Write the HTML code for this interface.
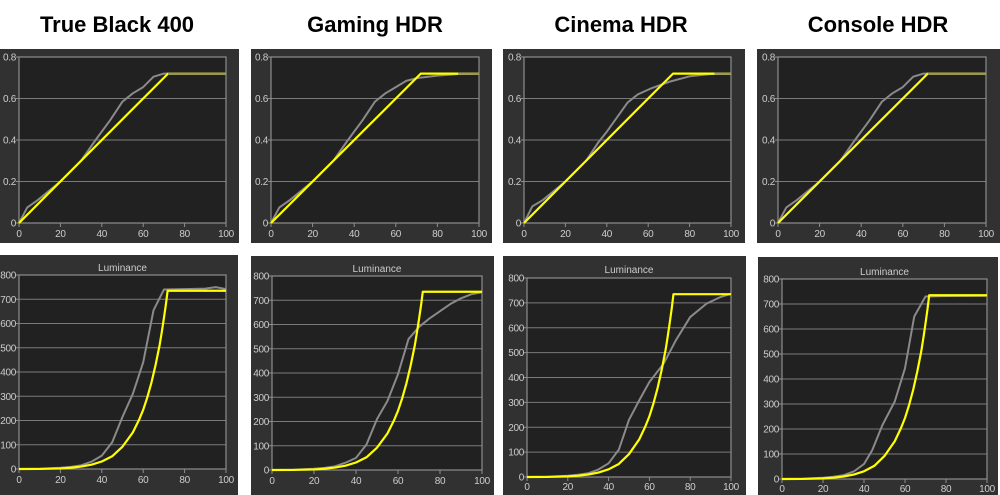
<!DOCTYPE html>
<html><head><meta charset="utf-8">
<style>
html,body{margin:0;padding:0;background:#fff;}
svg{display:block;}
text{font-family:"Liberation Sans",sans-serif;font-size:10px;letter-spacing:-0.3px;fill:#cdcdcd;}
.t{font-size:22px;font-weight:bold;fill:#000;letter-spacing:0;}
.lum{font-size:10px;letter-spacing:0;}
.g line{stroke:#7a7a7a;stroke-width:1;}
.bd{fill:none;stroke:#8e8e8e;stroke-width:1.2;}
.tk line{stroke:#8e8e8e;stroke-width:1;}
.cv polyline{fill:none;vector-effect:non-scaling-stroke;stroke-linejoin:round;}
.gr{stroke:#8a8a8a;stroke-width:2;}
.ye{stroke:#ffff00;stroke-width:2.2;}
.ol{stroke:#959570;stroke-width:2;}
</style></head>
<body>
<svg width="1000" height="495" viewBox="0 0 1000 495" xmlns="http://www.w3.org/2000/svg">
<rect width="1000" height="495" fill="#fff"/>
<text class="t" x="117" y="32" text-anchor="middle">True Black 400</text>
<text class="t" x="375" y="32" text-anchor="middle">Gaming HDR</text>
<text class="t" x="621" y="32" text-anchor="middle">Cinema HDR</text>
<text class="t" x="878" y="32" text-anchor="middle">Console HDR</text>

<!-- panels -->
<rect x="0" y="49" width="239" height="194" fill="#313131"/>
<rect x="251" y="49" width="241" height="194" fill="#313131"/>
<rect x="503" y="49" width="242" height="194" fill="#313131"/>
<rect x="757" y="49" width="243" height="194" fill="#313131"/>
<rect x="0" y="255" width="238" height="240" fill="#313131"/>
<rect x="251" y="256" width="243" height="239" fill="#313131"/>
<rect x="503" y="256" width="243" height="239" fill="#313131"/>
<rect x="758" y="257" width="240" height="238" fill="#313131"/>

<!-- TOP 1 -->
<svg x="19" y="57" width="207" height="166" overflow="visible">
 <rect width="100%" height="100%" fill="#212121"/>
 <g class="g"><line x1="0" x2="100%" y1="25%" y2="25%"/><line x1="0" x2="100%" y1="50%" y2="50%"/><line x1="0" x2="100%" y1="75%" y2="75%"/></g>
 <rect class="bd" width="100%" height="100%"/>
 <g class="tk"><line x1="-3" x2="0" y1="0%" y2="0%"/><line x1="-3" x2="0" y1="25%" y2="25%"/><line x1="-3" x2="0" y1="50%" y2="50%"/><line x1="-3" x2="0" y1="75%" y2="75%"/><line x1="-3" x2="0" y1="100%" y2="100%"/></g>
 <g text-anchor="end"><text x="-3" y="0%" dy="0.35em">0.8</text><text x="-3" y="25%" dy="0.35em">0.6</text><text x="-3" y="50%" dy="0.35em">0.4</text><text x="-3" y="75%" dy="0.35em">0.2</text><text x="-3" y="100%" dy="0.35em">0</text></g>
 <svg y="100%" width="100%" height="5" overflow="visible">
  <g class="tk"><line x1="0%" x2="0%" y1="0" y2="4"/><line x1="20%" x2="20%" y1="0" y2="4"/><line x1="40%" x2="40%" y1="0" y2="4"/><line x1="60%" x2="60%" y1="0" y2="4"/><line x1="80%" x2="80%" y1="0" y2="4"/><line x1="100%" x2="100%" y1="0" y2="4"/></g>
  <g text-anchor="middle"><text x="0%" y="14">0</text><text x="20%" y="14">20</text><text x="40%" y="14">40</text><text x="60%" y="14">60</text><text x="80%" y="14">80</text><text x="100%" y="14">100</text></g>
 </svg>
 <svg class="cv" width="100%" height="100%" viewBox="0 0 100 80" preserveAspectRatio="none" overflow="visible"><g transform="matrix(1 0 0 -1 0 80)">
  <polyline class="gr" points="0,0 4,7.5 9,11 20,20 30,30 37,40 44,49.5 50,58.5 55,62.5 60,65.5 65,70.5 70,72 100,72"/>
  <polyline class="ye" points="0,0 72,72 100,72"/>
  <polyline class="ol" points="72,72 100,72"/>
 </g></svg>
</svg>

<!-- TOP 2 -->
<svg x="271" y="57" width="208" height="166" overflow="visible">
 <rect width="100%" height="100%" fill="#212121"/>
 <g class="g"><line x1="0" x2="100%" y1="25%" y2="25%"/><line x1="0" x2="100%" y1="50%" y2="50%"/><line x1="0" x2="100%" y1="75%" y2="75%"/></g>
 <rect class="bd" width="100%" height="100%"/>
 <g class="tk"><line x1="-3" x2="0" y1="0%" y2="0%"/><line x1="-3" x2="0" y1="25%" y2="25%"/><line x1="-3" x2="0" y1="50%" y2="50%"/><line x1="-3" x2="0" y1="75%" y2="75%"/><line x1="-3" x2="0" y1="100%" y2="100%"/></g>
 <g text-anchor="end"><text x="-3" y="0%" dy="0.35em">0.8</text><text x="-3" y="25%" dy="0.35em">0.6</text><text x="-3" y="50%" dy="0.35em">0.4</text><text x="-3" y="75%" dy="0.35em">0.2</text><text x="-3" y="100%" dy="0.35em">0</text></g>
 <svg y="100%" width="100%" height="5" overflow="visible">
  <g class="tk"><line x1="0%" x2="0%" y1="0" y2="4"/><line x1="20%" x2="20%" y1="0" y2="4"/><line x1="40%" x2="40%" y1="0" y2="4"/><line x1="60%" x2="60%" y1="0" y2="4"/><line x1="80%" x2="80%" y1="0" y2="4"/><line x1="100%" x2="100%" y1="0" y2="4"/></g>
  <g text-anchor="middle"><text x="0%" y="14">0</text><text x="20%" y="14">20</text><text x="40%" y="14">40</text><text x="60%" y="14">60</text><text x="80%" y="14">80</text><text x="100%" y="14">100</text></g>
 </svg>
 <svg class="cv" width="100%" height="100%" viewBox="0 0 100 80" preserveAspectRatio="none" overflow="visible"><g transform="matrix(1 0 0 -1 0 80)">
  <polyline class="gr" points="0,0 4,7.5 9,11 20,20 30,30 37,40 44,49.5 50,58.5 55,62.5 60,65.5 65,68.5 70,69.8 80,71 90,71.8 100,72"/>
  <polyline class="ye" points="0,0 72,72 100,72"/>
  <polyline class="ol" points="90,72 100,72"/>
 </g></svg>
</svg>

<!-- TOP 3 -->
<svg x="524" y="57" width="207" height="166" overflow="visible">
 <rect width="100%" height="100%" fill="#212121"/>
 <g class="g"><line x1="0" x2="100%" y1="25%" y2="25%"/><line x1="0" x2="100%" y1="50%" y2="50%"/><line x1="0" x2="100%" y1="75%" y2="75%"/></g>
 <rect class="bd" width="100%" height="100%"/>
 <g class="tk"><line x1="-3" x2="0" y1="0%" y2="0%"/><line x1="-3" x2="0" y1="25%" y2="25%"/><line x1="-3" x2="0" y1="50%" y2="50%"/><line x1="-3" x2="0" y1="75%" y2="75%"/><line x1="-3" x2="0" y1="100%" y2="100%"/></g>
 <g text-anchor="end"><text x="-3" y="0%" dy="0.35em">0.8</text><text x="-3" y="25%" dy="0.35em">0.6</text><text x="-3" y="50%" dy="0.35em">0.4</text><text x="-3" y="75%" dy="0.35em">0.2</text><text x="-3" y="100%" dy="0.35em">0</text></g>
 <svg y="100%" width="100%" height="5" overflow="visible">
  <g class="tk"><line x1="0%" x2="0%" y1="0" y2="4"/><line x1="20%" x2="20%" y1="0" y2="4"/><line x1="40%" x2="40%" y1="0" y2="4"/><line x1="60%" x2="60%" y1="0" y2="4"/><line x1="80%" x2="80%" y1="0" y2="4"/><line x1="100%" x2="100%" y1="0" y2="4"/></g>
  <g text-anchor="middle"><text x="0%" y="14">0</text><text x="20%" y="14">20</text><text x="40%" y="14">40</text><text x="60%" y="14">60</text><text x="80%" y="14">80</text><text x="100%" y="14">100</text></g>
 </svg>
 <svg class="cv" width="100%" height="100%" viewBox="0 0 100 80" preserveAspectRatio="none" overflow="visible"><g transform="matrix(1 0 0 -1 0 80)">
  <polyline class="gr" points="0,0 4,8 9,11 20,20 30,30 36,39 40,44 45,51 50,58 55,62 61,64.7 70,68 80,70.7 90,71.8 100,72"/>
  <polyline class="ye" points="0,0 72,72 100,72"/>
  <polyline class="ol" points="92,72 100,72"/>
 </g></svg>
</svg>

<!-- TOP 4 -->
<svg x="778" y="57" width="208" height="166" overflow="visible">
 <rect width="100%" height="100%" fill="#212121"/>
 <g class="g"><line x1="0" x2="100%" y1="25%" y2="25%"/><line x1="0" x2="100%" y1="50%" y2="50%"/><line x1="0" x2="100%" y1="75%" y2="75%"/></g>
 <rect class="bd" width="100%" height="100%"/>
 <g class="tk"><line x1="-3" x2="0" y1="0%" y2="0%"/><line x1="-3" x2="0" y1="25%" y2="25%"/><line x1="-3" x2="0" y1="50%" y2="50%"/><line x1="-3" x2="0" y1="75%" y2="75%"/><line x1="-3" x2="0" y1="100%" y2="100%"/></g>
 <g text-anchor="end"><text x="-3" y="0%" dy="0.35em">0.8</text><text x="-3" y="25%" dy="0.35em">0.6</text><text x="-3" y="50%" dy="0.35em">0.4</text><text x="-3" y="75%" dy="0.35em">0.2</text><text x="-3" y="100%" dy="0.35em">0</text></g>
 <svg y="100%" width="100%" height="5" overflow="visible">
  <g class="tk"><line x1="0%" x2="0%" y1="0" y2="4"/><line x1="20%" x2="20%" y1="0" y2="4"/><line x1="40%" x2="40%" y1="0" y2="4"/><line x1="60%" x2="60%" y1="0" y2="4"/><line x1="80%" x2="80%" y1="0" y2="4"/><line x1="100%" x2="100%" y1="0" y2="4"/></g>
  <g text-anchor="middle"><text x="0%" y="14">0</text><text x="20%" y="14">20</text><text x="40%" y="14">40</text><text x="60%" y="14">60</text><text x="80%" y="14">80</text><text x="100%" y="14">100</text></g>
 </svg>
 <svg class="cv" width="100%" height="100%" viewBox="0 0 100 80" preserveAspectRatio="none" overflow="visible"><g transform="matrix(1 0 0 -1 0 80)">
  <polyline class="gr" points="0,0 4,7.5 9,11 20,20 30,30 37,40 44,49.5 50,58.5 55,62.5 60,65.5 65,70.5 70,72 100,72"/>
  <polyline class="ye" points="0,0 72,72 100,72"/>
  <polyline class="ol" points="72,72 100,72"/>
 </g></svg>
</svg>

<!-- BOTTOM 1 -->
<svg x="19" y="275" width="207" height="194" overflow="visible">
 <rect width="100%" height="100%" fill="#212121"/>
 <g class="g"><line x1="0" x2="100%" y1="12.5%" y2="12.5%"/><line x1="0" x2="100%" y1="25%" y2="25%"/><line x1="0" x2="100%" y1="37.5%" y2="37.5%"/><line x1="0" x2="100%" y1="50%" y2="50%"/><line x1="0" x2="100%" y1="62.5%" y2="62.5%"/><line x1="0" x2="100%" y1="75%" y2="75%"/><line x1="0" x2="100%" y1="87.5%" y2="87.5%"/></g>
 <rect class="bd" width="100%" height="100%"/>
 <text class="lum" x="50%" y="-4" text-anchor="middle">Luminance</text>
 <g class="tk"><line x1="-3" x2="0" y1="0%" y2="0%"/><line x1="-3" x2="0" y1="12.5%" y2="12.5%"/><line x1="-3" x2="0" y1="25%" y2="25%"/><line x1="-3" x2="0" y1="37.5%" y2="37.5%"/><line x1="-3" x2="0" y1="50%" y2="50%"/><line x1="-3" x2="0" y1="62.5%" y2="62.5%"/><line x1="-3" x2="0" y1="75%" y2="75%"/><line x1="-3" x2="0" y1="87.5%" y2="87.5%"/><line x1="-3" x2="0" y1="100%" y2="100%"/></g>
 <g text-anchor="end"><text x="-3" y="0%" dy="0.35em">800</text><text x="-3" y="12.5%" dy="0.35em">700</text><text x="-3" y="25%" dy="0.35em">600</text><text x="-3" y="37.5%" dy="0.35em">500</text><text x="-3" y="50%" dy="0.35em">400</text><text x="-3" y="62.5%" dy="0.35em">300</text><text x="-3" y="75%" dy="0.35em">200</text><text x="-3" y="87.5%" dy="0.35em">100</text><text x="-3" y="100%" dy="0.35em">0</text></g>
 <svg y="100%" width="100%" height="5" overflow="visible">
  <g class="tk"><line x1="0%" x2="0%" y1="0" y2="4"/><line x1="20%" x2="20%" y1="0" y2="4"/><line x1="40%" x2="40%" y1="0" y2="4"/><line x1="60%" x2="60%" y1="0" y2="4"/><line x1="80%" x2="80%" y1="0" y2="4"/><line x1="100%" x2="100%" y1="0" y2="4"/></g>
  <g text-anchor="middle"><text x="0%" y="14">0</text><text x="20%" y="14">20</text><text x="40%" y="14">40</text><text x="60%" y="14">60</text><text x="80%" y="14">80</text><text x="100%" y="14">100</text></g>
 </svg>
 <svg class="cv" width="100%" height="100%" viewBox="0 0 100 80" preserveAspectRatio="none" overflow="visible"><g transform="matrix(1 0 0 -1 0 80)">
  <polyline class="gr" points="0,0 10,0.1 20,0.5 25,0.9 30,1.5 35,3 40,5.5 45,11 50,21.5 55,31 60,44 65,65.5 70,74 80,74.2 90,74.4 95,75 100,74.2"/>
  <polyline class="ye" points="0,0 10,0.03 20,0.24 25,0.52 30,1 35,1.79 40,3.09 45,5.24 50,9.22 55,15.1 58,20.3 60,24.4 62,29.6 64,35.7 66,43 68,51.4 69,56.6 70,62.2 71,68.1 71.8,73.5 100,73.5"/>
 </g></svg>
</svg>

<!-- BOTTOM 2 -->
<svg x="272" y="276" width="210" height="194" overflow="visible">
 <rect width="100%" height="100%" fill="#212121"/>
 <g class="g"><line x1="0" x2="100%" y1="12.5%" y2="12.5%"/><line x1="0" x2="100%" y1="25%" y2="25%"/><line x1="0" x2="100%" y1="37.5%" y2="37.5%"/><line x1="0" x2="100%" y1="50%" y2="50%"/><line x1="0" x2="100%" y1="62.5%" y2="62.5%"/><line x1="0" x2="100%" y1="75%" y2="75%"/><line x1="0" x2="100%" y1="87.5%" y2="87.5%"/></g>
 <rect class="bd" width="100%" height="100%"/>
 <text class="lum" x="50%" y="-4" text-anchor="middle">Luminance</text>
 <g class="tk"><line x1="-3" x2="0" y1="0%" y2="0%"/><line x1="-3" x2="0" y1="12.5%" y2="12.5%"/><line x1="-3" x2="0" y1="25%" y2="25%"/><line x1="-3" x2="0" y1="37.5%" y2="37.5%"/><line x1="-3" x2="0" y1="50%" y2="50%"/><line x1="-3" x2="0" y1="62.5%" y2="62.5%"/><line x1="-3" x2="0" y1="75%" y2="75%"/><line x1="-3" x2="0" y1="87.5%" y2="87.5%"/><line x1="-3" x2="0" y1="100%" y2="100%"/></g>
 <g text-anchor="end"><text x="-3" y="0%" dy="0.35em">800</text><text x="-3" y="12.5%" dy="0.35em">700</text><text x="-3" y="25%" dy="0.35em">600</text><text x="-3" y="37.5%" dy="0.35em">500</text><text x="-3" y="50%" dy="0.35em">400</text><text x="-3" y="62.5%" dy="0.35em">300</text><text x="-3" y="75%" dy="0.35em">200</text><text x="-3" y="87.5%" dy="0.35em">100</text><text x="-3" y="100%" dy="0.35em">0</text></g>
 <svg y="100%" width="100%" height="5" overflow="visible">
  <g class="tk"><line x1="0%" x2="0%" y1="0" y2="4"/><line x1="20%" x2="20%" y1="0" y2="4"/><line x1="40%" x2="40%" y1="0" y2="4"/><line x1="60%" x2="60%" y1="0" y2="4"/><line x1="80%" x2="80%" y1="0" y2="4"/><line x1="100%" x2="100%" y1="0" y2="4"/></g>
  <g text-anchor="middle"><text x="0%" y="14">0</text><text x="20%" y="14">20</text><text x="40%" y="14">40</text><text x="60%" y="14">60</text><text x="80%" y="14">80</text><text x="100%" y="14">100</text></g>
 </svg>
 <svg class="cv" width="100%" height="100%" viewBox="0 0 100 80" preserveAspectRatio="none" overflow="visible"><g transform="matrix(1 0 0 -1 0 80)">
  <polyline class="gr" points="0,0 10,0.1 20,0.5 25,0.9 30,1.5 35,3 40,5 45,10.5 50,21 55,28.5 60,39.5 65,54 70,59 75,62.5 80,65.5 85,68.5 90,70.8 95,72.5 100,73.3"/>
  <polyline class="ye" points="0,0 10,0.03 20,0.24 25,0.52 30,1 35,1.79 40,3.09 45,5.24 50,9.22 55,15.1 58,20.3 60,24.4 62,29.6 64,35.7 66,43 68,51.4 69,56.6 70,62.2 71,68.1 71.8,73.5 100,73.5"/>
 </g></svg>
</svg>

<!-- BOTTOM 3 -->
<svg x="527" y="278" width="204" height="199" overflow="visible">
 <rect width="100%" height="100%" fill="#212121"/>
 <g class="g"><line x1="0" x2="100%" y1="12.5%" y2="12.5%"/><line x1="0" x2="100%" y1="25%" y2="25%"/><line x1="0" x2="100%" y1="37.5%" y2="37.5%"/><line x1="0" x2="100%" y1="50%" y2="50%"/><line x1="0" x2="100%" y1="62.5%" y2="62.5%"/><line x1="0" x2="100%" y1="75%" y2="75%"/><line x1="0" x2="100%" y1="87.5%" y2="87.5%"/></g>
 <rect class="bd" width="100%" height="100%"/>
 <text class="lum" x="50%" y="-5" text-anchor="middle">Luminance</text>
 <g class="tk"><line x1="-3" x2="0" y1="0%" y2="0%"/><line x1="-3" x2="0" y1="12.5%" y2="12.5%"/><line x1="-3" x2="0" y1="25%" y2="25%"/><line x1="-3" x2="0" y1="37.5%" y2="37.5%"/><line x1="-3" x2="0" y1="50%" y2="50%"/><line x1="-3" x2="0" y1="62.5%" y2="62.5%"/><line x1="-3" x2="0" y1="75%" y2="75%"/><line x1="-3" x2="0" y1="87.5%" y2="87.5%"/><line x1="-3" x2="0" y1="100%" y2="100%"/></g>
 <g text-anchor="end"><text x="-3" y="0%" dy="0.35em">800</text><text x="-3" y="12.5%" dy="0.35em">700</text><text x="-3" y="25%" dy="0.35em">600</text><text x="-3" y="37.5%" dy="0.35em">500</text><text x="-3" y="50%" dy="0.35em">400</text><text x="-3" y="62.5%" dy="0.35em">300</text><text x="-3" y="75%" dy="0.35em">200</text><text x="-3" y="87.5%" dy="0.35em">100</text><text x="-3" y="100%" dy="0.35em">0</text></g>
 <svg y="100%" width="100%" height="5" overflow="visible">
  <g class="tk"><line x1="0%" x2="0%" y1="0" y2="4"/><line x1="20%" x2="20%" y1="0" y2="4"/><line x1="40%" x2="40%" y1="0" y2="4"/><line x1="60%" x2="60%" y1="0" y2="4"/><line x1="80%" x2="80%" y1="0" y2="4"/><line x1="100%" x2="100%" y1="0" y2="4"/></g>
  <g text-anchor="middle"><text x="0%" y="13">0</text><text x="20%" y="13">20</text><text x="40%" y="13">40</text><text x="60%" y="13">60</text><text x="80%" y="13">80</text><text x="100%" y="13">100</text></g>
 </svg>
 <svg class="cv" width="100%" height="100%" viewBox="0 0 100 80" preserveAspectRatio="none" overflow="visible"><g transform="matrix(1 0 0 -1 0 80)">
  <polyline class="gr" points="0,0 10,0.1 20,0.5 25,0.9 30,1.5 35,3 40,5.5 45,11 50,23 55,30.8 60,38.2 67,45.6 73,55 80,64.3 88,69.7 95,72.4 100,73.7"/>
  <polyline class="ye" points="0,0 10,0.03 20,0.24 25,0.52 30,1 35,1.79 40,3.09 45,5.24 50,9.22 55,15.1 58,20.3 60,24.4 62,29.6 64,35.7 66,43 68,51.4 69,56.6 70,62.2 71,68.1 71.8,73.5 100,73.5"/>
 </g></svg>
</svg>

<!-- BOTTOM 4 -->
<svg x="782" y="279" width="205" height="200" overflow="visible">
 <rect width="100%" height="100%" fill="#212121"/>
 <g class="g"><line x1="0" x2="100%" y1="12.5%" y2="12.5%"/><line x1="0" x2="100%" y1="25%" y2="25%"/><line x1="0" x2="100%" y1="37.5%" y2="37.5%"/><line x1="0" x2="100%" y1="50%" y2="50%"/><line x1="0" x2="100%" y1="62.5%" y2="62.5%"/><line x1="0" x2="100%" y1="75%" y2="75%"/><line x1="0" x2="100%" y1="87.5%" y2="87.5%"/></g>
 <rect class="bd" width="100%" height="100%"/>
 <text class="lum" x="50%" y="-4" text-anchor="middle">Luminance</text>
 <g class="tk"><line x1="-3" x2="0" y1="0%" y2="0%"/><line x1="-3" x2="0" y1="12.5%" y2="12.5%"/><line x1="-3" x2="0" y1="25%" y2="25%"/><line x1="-3" x2="0" y1="37.5%" y2="37.5%"/><line x1="-3" x2="0" y1="50%" y2="50%"/><line x1="-3" x2="0" y1="62.5%" y2="62.5%"/><line x1="-3" x2="0" y1="75%" y2="75%"/><line x1="-3" x2="0" y1="87.5%" y2="87.5%"/><line x1="-3" x2="0" y1="100%" y2="100%"/></g>
 <g text-anchor="end"><text x="-3" y="0%" dy="0.35em">800</text><text x="-3" y="12.5%" dy="0.35em">700</text><text x="-3" y="25%" dy="0.35em">600</text><text x="-3" y="37.5%" dy="0.35em">500</text><text x="-3" y="50%" dy="0.35em">400</text><text x="-3" y="62.5%" dy="0.35em">300</text><text x="-3" y="75%" dy="0.35em">200</text><text x="-3" y="87.5%" dy="0.35em">100</text><text x="-3" y="100%" dy="0.35em">0</text></g>
 <svg y="100%" width="100%" height="5" overflow="visible">
  <g class="tk"><line x1="0%" x2="0%" y1="0" y2="4"/><line x1="20%" x2="20%" y1="0" y2="4"/><line x1="40%" x2="40%" y1="0" y2="4"/><line x1="60%" x2="60%" y1="0" y2="4"/><line x1="80%" x2="80%" y1="0" y2="4"/><line x1="100%" x2="100%" y1="0" y2="4"/></g>
  <g text-anchor="middle"><text x="0%" y="13">0</text><text x="20%" y="13">20</text><text x="40%" y="13">40</text><text x="60%" y="13">60</text><text x="80%" y="13">80</text><text x="100%" y="13">100</text></g>
 </svg>
 <svg class="cv" width="100%" height="100%" viewBox="0 0 100 80" preserveAspectRatio="none" overflow="visible"><g transform="matrix(1 0 0 -1 0 80)">
  <polyline class="gr" points="0,0 10,0.1 20,0.5 25,0.9 30,1.5 35,3 40,6 44,11.5 49,21.6 55,31 60,44.3 64.5,65 70,73 80,73.2 100,73.3"/>
  <polyline class="ye" points="0,0 10,0.03 20,0.24 25,0.52 30,1 35,1.79 40,3.09 45,5.24 50,9.22 55,15.1 58,20.3 60,24.4 62,29.6 64,35.7 66,43 68,51.4 69,56.6 70,62.2 71,68.1 71.8,73.5 100,73.5"/>
 </g></svg>
</svg>
</svg>
</body></html>
